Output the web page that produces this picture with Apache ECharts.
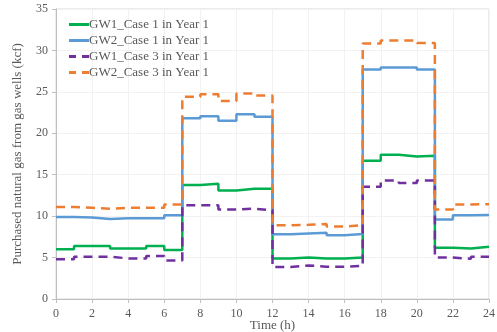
<!DOCTYPE html>
<html>
<head>
<meta charset="utf-8">
<script src="https://cdn.jsdelivr.net/npm/echarts@6/dist/echarts.min.js"></script>
<style>
html,body{margin:0;padding:0;background:#fff;}
#main{width:497px;height:332px;}
</style>
</head>
<body>
<div id="main"></div>
<script>
// hourly values, hour 0..23 (each value holds for one hour)
var hours=[0,1,2,3,4,5,6,7,8,9,10,11,12,13,14,15,16,17,18,19,20,21,22,23,24];
var gw1Case1=[6.0,6.4,6.4,6.1,6.1,6.4,5.9,13.75,13.9,13.1,13.3,13.3,4.9,5.0,4.9,4.9,5.0,16.7,17.4,17.2,17.3,6.2,6.1,6.3];
var gw2Case1=[9.9,9.85,9.65,9.75,9.75,9.75,10.1,21.8,22.05,21.5,22.3,22.0,7.8,7.9,8.0,7.7,7.85,27.7,27.95,27.95,27.7,9.6,10.1,10.15];
var gw1Case3=[4.8,5.1,5.1,4.9,4.9,5.2,4.65,11.3,11.3,10.8,10.9,10.7,3.85,4.05,3.9,3.9,4.0,13.55,14.3,14.0,14.3,5.0,4.85,5.1];
var gw2Case3=[11.1,11.0,10.9,11.0,11.0,11.0,11.4,24.4,24.7,23.9,24.8,24.55,8.9,8.95,9.05,8.75,8.9,30.85,31.2,31.2,30.9,10.8,11.4,11.45];
var names=['GW1_Case 1 in Year 1','GW2_Case 1 in Year 1','GW1_Case 3 in Year 1','GW2_Case 3 in Year 1'];
var colors=['#00b050','#5b9bd5','#7030a0','#ed7d31'];
var dashed=[false,false,true,true];

function pts(arr){
    var out=[];
    for(var i=0;i<arr.length;i++){ out.push([hours[i],arr[i]]); }
    out.push([24,arr[arr.length-1]]);
    return out;
}
function mk(i,arr){
    return {
        name:names[i],
        type:'line',
        step:'end',
        symbol:'none',
        data:pts(arr),
        lineStyle:{color:colors[i],width:2.5,type:dashed[i]?[9,6]:'solid'},
        itemStyle:{color:colors[i]}
    };
}
var solidIcon='path://M0,0H20V3H0Z';
var dashIcon='path://M0,0H7V3H0Z M13,0H20V3H13Z';
var font='Liberation Serif';
var myChart=echarts.init(document.getElementById('main'));
var option={
    animation:false,
    textStyle:{fontFamily:font},
    grid:{left:56,right:8,top:9,bottom:33,outerBoundsMode:'none',show:true,borderColor:'#d9d9d9',borderWidth:1},
    legend:{
        orient:'vertical',
        left:64,top:13,
        itemWidth:20,itemHeight:3,itemGap:3,
        textStyle:{fontFamily:font,fontSize:13,color:'#595959',padding:[0,0,0,-5]},
        data:names.map(function(n,i){
            return {name:n,icon:dashed[i]?dashIcon:solidIcon};
        })
    },
    xAxis:{
        type:'value',min:0,max:24,interval:2,
        name:'Time (h)',nameLocation:'middle',nameGap:20,nameMoveOverlap:false,
        nameTextStyle:{fontFamily:font,fontSize:13,color:'#595959'},
        axisLine:{show:true,lineStyle:{color:'#bfbfbf'}},
        axisTick:{show:true,length:4,lineStyle:{color:'#bfbfbf'}},
        axisLabel:{fontFamily:font,fontSize:12,color:'#595959',margin:9},
        splitLine:{show:true,lineStyle:{color:'#f2f2f2'}}
    },
    yAxis:{
        type:'value',min:0,max:35,interval:5,
        name:'Purchased natural gas from gas wells (kcf)',nameLocation:'middle',nameGap:32,nameMoveOverlap:false,
        nameTextStyle:{fontFamily:font,fontSize:13,color:'#595959'},
        axisLine:{show:true,lineStyle:{color:'#bfbfbf'}},
        axisTick:{show:true,length:4,lineStyle:{color:'#bfbfbf'}},
        axisLabel:{fontFamily:font,fontSize:12,color:'#595959',margin:8},
        splitLine:{show:true,lineStyle:{color:'#f2f2f2'}}
    },
    series:[
        mk(0,gw1Case1),
        mk(1,gw2Case1),
        mk(2,gw1Case3),
        mk(3,gw2Case3)
    ]
};
myChart.setOption(option);
</script>
</body>
</html>
